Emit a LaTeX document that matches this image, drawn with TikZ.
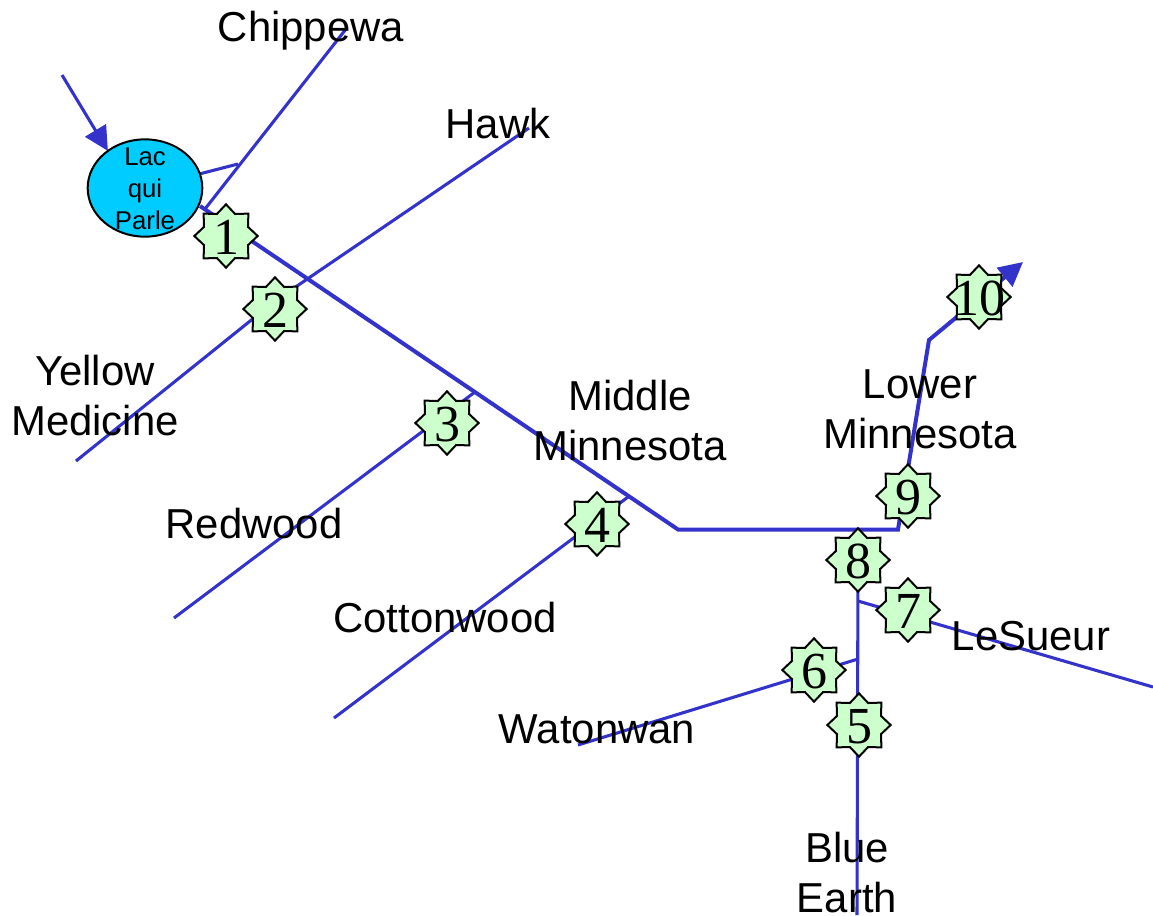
\documentclass[tikz,border=0pt]{standalone}
\usepackage{fontspec}
\setmainfont{Liberation Sans}
\newfontfamily\gagefont{Liberation Serif}
\usetikzlibrary{shapes.geometric,arrows.meta,backgrounds}
\definecolor{riverblue}{RGB}{51,51,204}
\definecolor{lakeblue}{RGB}{0,204,255}
\definecolor{gagegreen}{RGB}{204,255,204}
\newcommand{\gagetext}[1]{\makebox[0pt]{\smash{\raisebox{-.36em}{#1}}}}
\begin{document}
\begin{tikzpicture}[x=0.75pt,y=-0.75pt]
\tikzstyle{every node}+=[inner sep=0pt]
\tikzstyle{river}=[draw=riverblue,line width=2.3pt,line join=miter]
\tikzstyle{mainriver}=[river,line width=3pt]
\tikzstyle{flowtip}=[-{Triangle[length=18pt,width=18pt]}]
\tikzstyle{gage}=[star,star points=8,star point ratio=1.33,minimum size=47.5pt,outer sep=0pt,
  draw=black,line width=1.5pt,fill=gagegreen,font=\gagefont\fontsize{39}{39}\selectfont]
\tikzstyle{reach}=[align=center,font=\fontsize{31.4}{37.6}\selectfont]
\useasboundingbox (0,0) rectangle (1153,915);

\node [ellipse,minimum width=86pt,minimum height=73pt,outer sep=0pt,draw=black,line width=1.5pt,fill=lakeblue] (lake) at (145,188) {};
\node [align=center,font=\fontsize{19.3}{24}\selectfont] (lakename) at (145,189) {Lac\\qui\\Parle};

\node [gage] (gage1) at (226,236) {\gagetext{1}};
\node [gage] (gage2) at (275,309) {\gagetext{2}};
\node [gage] (gage3) at (447,423) {\gagetext{3}};
\node [gage] (gage4) at (597,524) {\gagetext{4}};
\node [gage] (gage5) at (859,725) {\gagetext{5}};
\node [gage] (gage6) at (814,670) {\gagetext{6}};
\node [gage] (gage7) at (908,610) {\gagetext{7}};
\node [gage] (gage8) at (858,560) {\gagetext{8}};
\node [gage] (gage9) at (908,496) {\gagetext{9}};
\node [gage] (gage10) at (979,297) {\gagetext{10}};

\node [reach] (chippewa) at (311,31) {Chippewa};
\node [reach] (hawk) at (498,123.5) {Hawk};
\node [reach] (yellow) at (95,395.5) {Yellow\\Medicine};
\node [reach] (middle) at (630,420.5) {Middle\\Minnesota};
\node [reach] (lower) at (920,409.5) {Lower\\Minnesota};
\node [reach] (redwood) at (254,523.5) {Redwood};
\node [reach] (cottonwood) at (445,617.5) {Cottonwood};
\node [reach] (lesueur) at (1031,636) {LeSueur};
\node [reach] (watonwan) at (597,729) {Watonwan};
\node [reach] (blueearth) at (847,872.5) {Blue\\Earth};

\coordinate (inflow) at (62,75);
\coordinate (mainstart) at (200,206);
\coordinate (bendA) at (678,529.5);
\coordinate (bendB) at (898,529.5);
\coordinate (bendC) at (929,340);
\coordinate (outflow) at (1023,262);
\coordinate (chippewaend) at (346,29);
\coordinate (chippewafoot) at (205,209);
\coordinate (chippewajoin) at (238,164);
\coordinate (hawkend) at (529,128);
\coordinate (hawkbend) at (275,301);
\coordinate (yellowend) at (76,461);
\coordinate (redwoodtop) at (475,392);
\coordinate (redwoodend) at (174,618);
\coordinate (cottontop) at (628,497);
\coordinate (cottonend) at (334,718);
\coordinate (watonwantop) at (858,659);
\coordinate (watonwanend) at (578,745);
\coordinate (lesueurtop) at (858,601);
\coordinate (lesueurend) at (1153,687);
\coordinate (blueend) at (857,915);

\begin{scope}[on background layer]
\draw [river,flowtip] (inflow) -- (lake.135);
\draw [mainriver,flowtip] (mainstart) -- (bendA) -- (bendB) -- (bendC) -- (outflow);
\draw [river] (chippewaend) -- (chippewafoot);
\draw [river] (lake) -- (chippewajoin);
\draw [river] (hawkend) -- (hawkbend) -- (yellowend);
\draw [river] (redwoodtop) -- (redwoodend);
\draw [river] (cottontop) -- (cottonend);
\draw [river] (watonwantop) -- (watonwanend);
\draw [river] (lesueurtop) -- (lesueurend);
\draw [river] (gage8) -- (blueend);
\end{scope}
\end{tikzpicture}
\end{document}
